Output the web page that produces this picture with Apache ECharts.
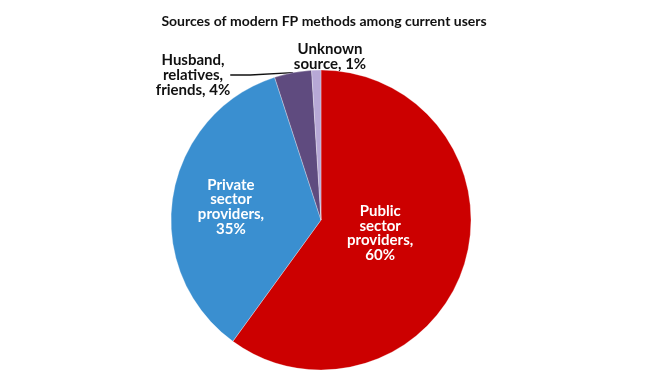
<!DOCTYPE html>
<html><head><meta charset="utf-8">
<script src="https://cdn.jsdelivr.net/npm/echarts@6/dist/echarts.min.js"></script>
<style>html,body{margin:0;padding:0;background:#fff}#c{width:648px;height:379px}</style>
</head><body><div id="c"></div>
<script>
const categories = ['Public\nsector\nproviders,', 'Private\nsector\nproviders,', 'Husband,\nrelatives,\nfriends,', 'Unknown\nsource,'];
const values = [60, 35, 4, 1];
const colors = ['#CC0000', '#3A8FD0', '#5F4B7F', '#B7A8D6'];
const titleText = 'Sources of modern FP methods among current users';

const chart = echarts.init(document.getElementById('c'), null, {renderer: 'canvas'});
const FONT = 'Lato';
const data = categories.map((n, i) => {
  const item = {name: n, value: values[i], itemStyle: {color: colors[i]}};
  if (i < 2) {
    item.label = {position: 'inside', color: '#fff', fontWeight: 'bold',
      formatter: p => p.name + '\n' + p.value + '%'};
    item.labelLine = {show: false};
  } else {
    item.label = {position: 'outside', color: '#111', fontWeight: 'bold',
      formatter: p => p.name + ' ' + p.value + '%'};
    item.labelLine = {show: i === 2, length: 10, length2: 20, lineStyle: {color: '#111', width: 1.4}};
  }
  return item;
});
chart.setOption({
  animation: false,
  title: {text: titleText, left: 'center', top: 9,
    textStyle: {fontFamily: FONT, fontSize: 14, fontWeight: 'bold', color: '#111'}},
  series: [{
    type: 'pie',
    center: [321, 220],
    radius: 150,
    startAngle: 90,
    clockwise: true,
    data: data,
    itemStyle: {borderColor: '#fff', borderWidth: 0.3},
    label: {
      fontFamily: FONT, fontSize: 15, lineHeight: 14.7, align: 'center'
    },
    labelLayout: function (params) {
      if (params.dataIndex === 0) return {dx: -15, dy: -11};
      if (params.dataIndex === 1) return {dx: -13, dy: -1};
      if (params.dataIndex === 2) return {x: 193, y: 75, align: 'center', verticalAlign: 'middle'};
      if (params.dataIndex === 3) return {x: 330, y: 57, align: 'center', verticalAlign: 'middle'};
    }
  }]
});
</script></body></html>
